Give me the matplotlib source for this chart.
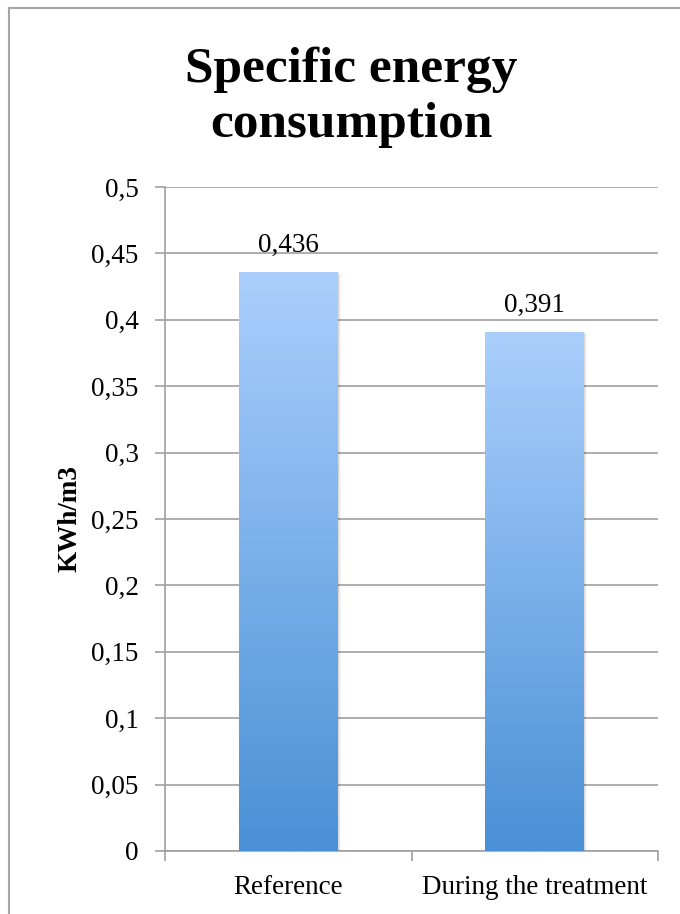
import numpy as np
import matplotlib
matplotlib.use("Agg")
import matplotlib.pyplot as plt
from matplotlib.colors import LinearSegmentedColormap
from matplotlib.lines import Line2D

categories = ["Reference", "During the treatment"]
values = [0.436, 0.391]
value_labels = ["0,436", "0,391"]
yticks = [0, 0.05, 0.1, 0.15, 0.2, 0.25, 0.3, 0.35, 0.4, 0.45, 0.5]
ytick_labels = ["0", "0,05", "0,1", "0,15", "0,2", "0,25", "0,3", "0,35", "0,4", "0,45", "0,5"]

W, H = 680, 914
fig = plt.figure(figsize=(W / 100, H / 100), dpi=100)
plt.rcParams["font.family"] = ["Liberation Serif", "DejaVu Serif"]

# outer chart frame (left and top edges)
fig.add_artist(Line2D([9 / W, 9 / W], [0, 1 - 8 / H], color="#a6a6a6", lw=1.5))
fig.add_artist(Line2D([9 / W, 1], [1 - 8 / H, 1 - 8 / H], color="#a6a6a6", lw=1.5))

ax = fig.add_axes([165 / W, 1 - 851 / H, (658 - 165) / W, (851 - 187) / H])
ax.set_xlim(0, 2)
ax.set_ylim(0, 0.5)

fs = 19.5
grid_c = "#a0a0a0"
ax.set_yticks(yticks)
ax.set_yticklabels(ytick_labels, fontsize=fs)
ax.yaxis.grid(True, color=grid_c, lw=1.2)
ax.set_axisbelow(True)

ax.set_xticks([0, 1, 2], minor=False)
ax.set_xticklabels([])
ax.set_xticks([0.5, 1.5], minor=True)
ax.set_xticklabels(categories, minor=True, fontsize=fs)
ax.tick_params(axis="x", which="minor", length=0, pad=17)
ax.tick_params(axis="x", which="major", length=7, width=1.2, color=grid_c, direction="out")
ax.tick_params(axis="y", length=7, width=1.2, color=grid_c, direction="out", pad=12)

for s in ["top", "right"]:
    ax.spines[s].set_visible(False)
for s in ["left", "bottom"]:
    ax.spines[s].set_color(grid_c)
    ax.spines[s].set_linewidth(1.2)

cmap = LinearSegmentedColormap.from_list("bluegrad", ["#4a90d6", "#aacffc"])
grad = np.linspace(0, 1, 256).reshape(-1, 1)
xpos = [0.5, 1.5]
bw = 0.4
bars = ax.bar(xpos, values, width=bw, color="none", edgecolor="none", zorder=3)
for b, v in zip(bars, values):
    x0 = b.get_x()
    # soft shadow on the right side
    for k, a in enumerate([0.07, 0.05, 0.03]):
        ax.bar(x0 + bw / 2 + 0.004 * (k + 1), v - 0.001 * k, width=bw, bottom=0,
               color="#000000", alpha=a, zorder=2, lw=0)
    im = ax.imshow(grad, cmap=cmap, origin="lower", aspect="auto",
                   extent=[x0, x0 + bw, 0, v], zorder=3)
    im.set_clip_path(b)

ax.set_xlim(0, 2)
ax.set_ylim(0, 0.5)

for x, v, lab in zip(xpos, values, value_labels):
    ax.text(x, v + 0.015, lab, ha="center", va="baseline", fontsize=fs)

ax.set_ylabel("KWh/m3", fontsize=fs, fontweight="bold")
ax.yaxis.set_label_coords(-0.167, 0.5)

fig.text(351 / W, 1 - 82 / H, "Specific energy", ha="center", va="baseline",
         fontsize=37, fontweight="bold")
fig.text(351 / W, 1 - 137 / H, "consumption", ha="center", va="baseline",
         fontsize=37, fontweight="bold")

fig.savefig("out.png", dpi=100)
